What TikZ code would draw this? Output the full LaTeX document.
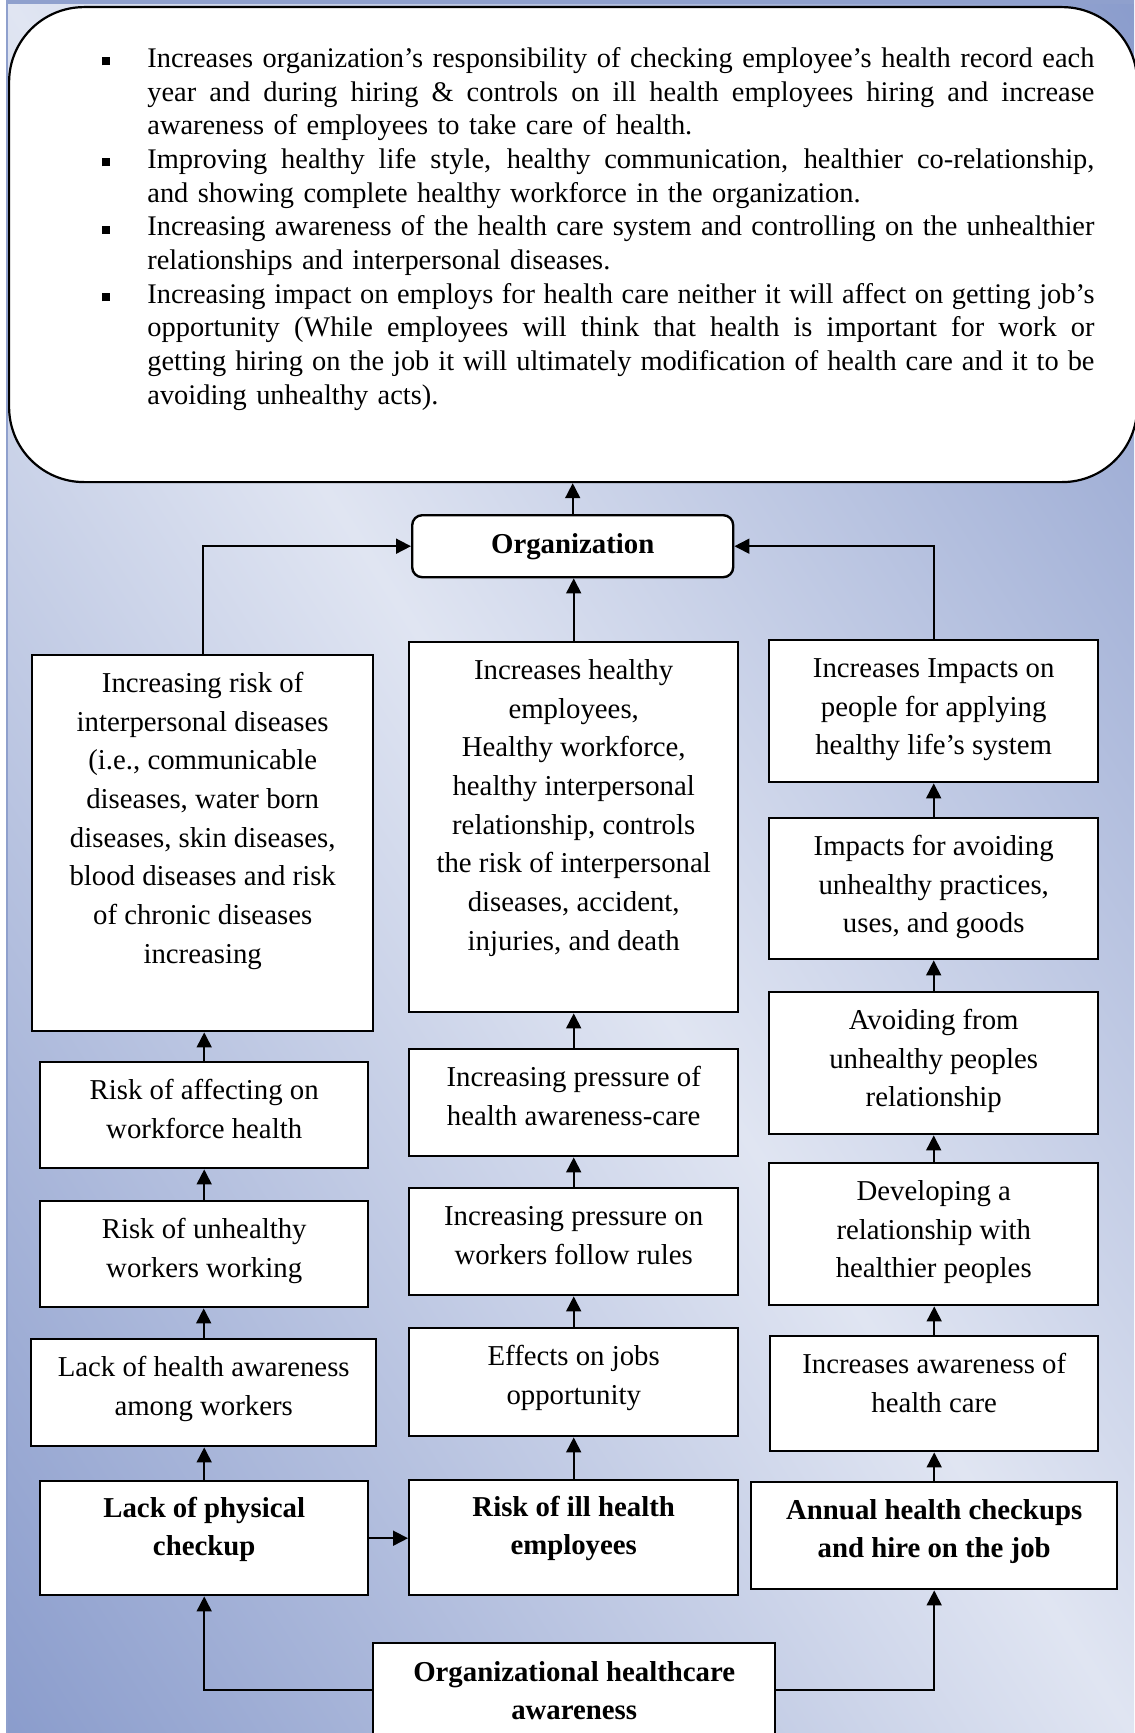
\documentclass[tikz,border=0pt]{standalone}
\usepackage{fontspec}
\setmainfont{Liberation Serif}
\usetikzlibrary{arrows.meta}
\definecolor{bgdark}{RGB}{138,156,204}
\definecolor{bglight}{RGB}{224,229,242}
\definecolor{edgeblue}{RGB}{143,160,205}
\pgfdeclarehorizontalshading{bgsh}{1100pt}{color(0pt)=(bgdark); color(473.5pt)=(bglight); color(947pt)=(bgdark)}
\newcommand\boxfont{\fontsize{14.4pt}{19.35pt}\selectfont}
\newcommand\topfont{\fontsize{14.2pt}{16.85pt}\selectfont}
\newlength\tw \setlength\tw{473.5pt}
\newcommand\jl[1]{\leavevmode\hbox to\tw{\spaceskip=\fontdimen2\font plus 20pt minus 1.5pt\relax #1}}
\newcommand\bul{\leavevmode\llap{\raisebox{1pt}{\rule{4pt}{4pt}}\hspace{18.5pt}}}
\tikzset{
  bx/.style={draw=black, line width=1.2pt, fill=white, inner sep=0pt},
  arr/.style={line width=0.85pt, -{Triangle[length=7.5pt,width=7.5pt]}},
}
\newcommand\mkbox[7][18.6pt]{%
  \pgfmathsetmacro\mybw{(#5-#3)*0.5}%
  \pgfmathsetmacro\mybh{(#6-#4)*0.5}%
  \node[bx, minimum width=\mybw pt, minimum height=\mybh pt, anchor=north west] (#2) at (#3,#4)
    {\parbox[c][\mybh pt][t]{\mybw pt}{\centering\boxfont\rule{0pt}{#1}#7}};%
}
\begin{document}
\begin{tikzpicture}[x=0.5pt,y=-0.5pt]
\useasboundingbox (0,0) rectangle (1134,1733);
\fill[white] (0,0) rectangle (1134,1733);
\begin{scope}
  \clip (6,0) rectangle (1134,1733);
  \pgftext[at={\pgfpoint{285pt}{-433.25pt}},rotate=33]{\pgfuseshading{bgsh}}
  \draw[edgeblue, line width=2pt] (6,2) -- (1134,2);
  \draw[edgeblue, line width=0.8pt] (7,0) -- (7,1733);
\end{scope}

% top box
\node[draw=black, line width=1.1pt, fill=white, rounded corners=37.5pt, minimum width=564pt,
      minimum height=237.5pt, anchor=north west, inner sep=0pt] (top) at (8,6) {};
\node[anchor=north west, inner sep=0pt, text width=\tw, align=left, font=\topfont] (toptext) at (147,35)
{\bul\rule{0pt}{16pt}\jl{Increases organization’s responsibility of checking employee’s health record each}\\
\jl{year and during hiring \& controls on ill health employees hiring and increase}\\
awareness of employees to take care of health.\\
\bul\jl{Improving healthy life style, healthy communication, healthier co-relationship,}\\
and showing complete healthy workforce in the organization.\\
\bul\jl{Increasing awareness of the health care system and controlling on the unhealthier}\\
relationships and interpersonal diseases.\\
\bul\jl{Increasing impact on employs for health care neither it will affect on getting job’s}\\
\jl{opportunity (While employees will think that health is important for work or}\\
\jl{getting hiring on the job it will ultimately modification of health care and it to be}\\
avoiding unhealthy acts).};

% organization
\node[bx, rounded corners=5pt, minimum width=160.5pt, minimum height=31pt, anchor=north west,
      font=\boxfont\bfseries] (org) at (411,514) {Organization};

% left column
\mkbox{L1}{31}{654}{372}{1030}{Increasing risk of\\interpersonal diseases\\(i.e., communicable\\diseases, water born\\diseases, skin diseases,\\blood diseases and risk\\of chronic diseases\\increasing}
\mkbox{L2}{39}{1061}{367}{1167}{Risk of affecting on\\workforce health}
\mkbox{L3}{39}{1200}{367}{1306}{Risk of unhealthy\\workers working}
\mkbox{L4}{30}{1338}{375}{1445}{Lack of health awareness\\among workers}
\mkbox[17.9pt]{L5}{39}{1480}{367}{1594}{\bfseries Lack of physical\\checkup}

% middle column
\mkbox{M1}{408}{641}{737}{1011}{Increases healthy\\employees,\\Healthy workforce,\\healthy interpersonal\\relationship, controls\\the risk of interpersonal\\diseases, accident,\\injuries, and death}
\mkbox{M2}{408}{1048}{737}{1155}{Increasing pressure of\\health awareness-care}
\mkbox{M3}{408}{1187}{737}{1294}{Increasing pressure on\\workers follow rules}
\mkbox{M4}{408}{1327}{737}{1435}{Effects on jobs\\opportunity}
\mkbox[17.9pt]{M5}{408}{1479}{737}{1594}{\bfseries Risk of ill health\\employees}

% right column
\mkbox{R1}{768}{639}{1097}{781}{Increases Impacts on\\people for applying\\healthy life’s system}
\mkbox{R2}{768}{817}{1097}{958}{Impacts for avoiding\\unhealthy practices,\\uses, and goods}
\mkbox{R3}{768}{991}{1097}{1133}{Avoiding from\\unhealthy peoples\\relationship}
\mkbox{R4}{768}{1162}{1097}{1304}{Developing a\\relationship with\\healthier peoples}
\mkbox{R5}{769}{1335}{1097}{1450}{Increases awareness of\\health care}
\mkbox[18.5pt]{R6}{750}{1481}{1116}{1588}{\bfseries Annual health checkups\\and hire on the job}

% bottom
\mkbox[19pt]{B}{372}{1642}{774}{1736}{\bfseries Organizational healthcare\\awareness}

% connectors
\draw[arr] (org.north) -- (org.north |- top.south);
\draw[arr] (M1.north) -- (M1.north |- org.south);
\draw[arr] (L1.north) |- (org.west);
\draw[arr] (R1.north) |- (org.east);
\foreach \a/\b in {L2/L1,L3/L2,L4/L3,L5/L4,M2/M1,M3/M2,M4/M3,M5/M4,R2/R1,R3/R2,R4/R3,R5/R4,R6/R5}
  \draw[arr] (\a.north) -- (\a.north |- \b.south);
\draw[arr] (L5.east) -- (L5.east -| M5.west);
\draw[arr] (B.west) -| (L5.south);
\draw[arr] (B.east) -| (R6.south);
\end{tikzpicture}
\end{document}
